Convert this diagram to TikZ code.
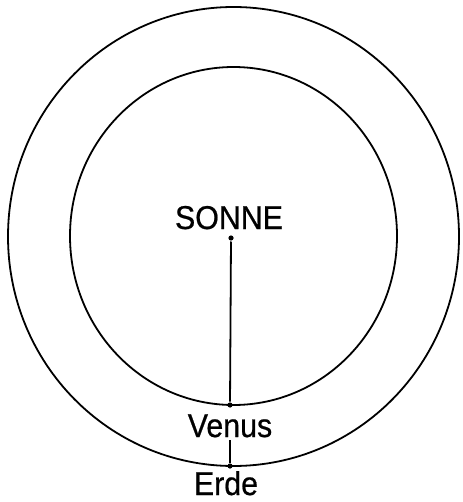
\documentclass[tikz,border=0pt]{standalone}
\usepackage{fontspec}
\setmainfont[FakeStretch=0.92, FakeBold=0.6]{Liberation Sans}
\begin{document}
\begin{tikzpicture}[x=0.5pt, y=-0.5pt, line width=0.9pt,
  every node/.style={font=\fontsize{16.5}{19}\selectfont},
  planet/.style={circle, fill, inner sep=0pt, minimum size=2.6pt}]
  \useasboundingbox (0,0) rectangle (462,502);
  % orbits
  \draw (233.5,236.5) ellipse[x radius=225.5, y radius=229.5];
  \draw (233.5,236) ellipse[x radius=163.5, y radius=169];
  % bodies
  \node[planet] (sonne) at (231,238) {};
  \node[planet] (venus) at (230,405) {};
  \node[planet] (erde) at (230,466) {};
  \node[anchor=base] (sonnelabel) at (229,229) {SONNE};
  \node[anchor=base] (venuslabel) at (230,437) {Venus};
  \node[anchor=base] (erdelabel) at (226,495) {Erde};
  \coordinate (venusfoot) at (230,440);
  \draw (sonne) -- (venus);
  \draw (venusfoot) -- (erde);
\end{tikzpicture}
\end{document}
